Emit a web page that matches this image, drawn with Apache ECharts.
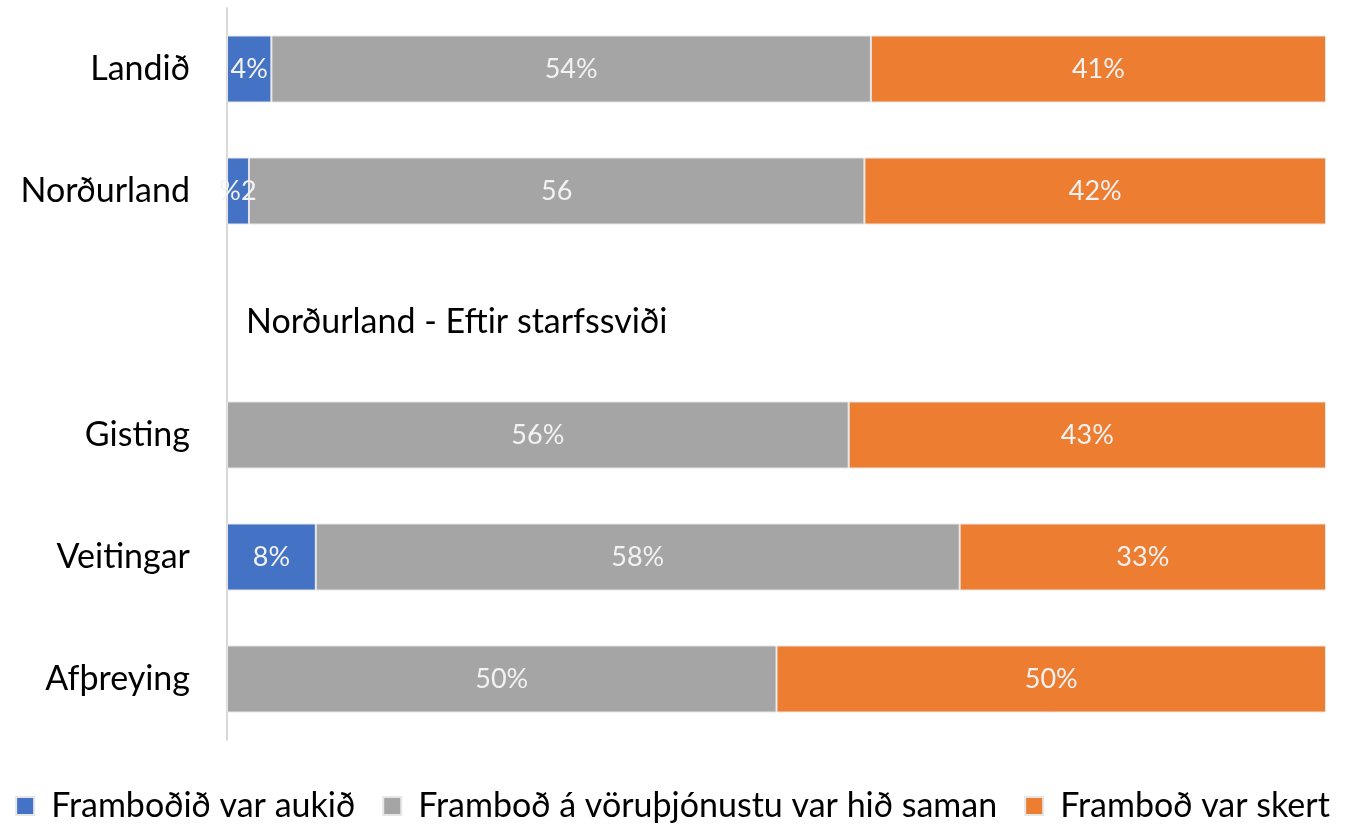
<!DOCTYPE html>
<html>
<head>
<meta charset="utf-8">
<script src="https://cdn.jsdelivr.net/npm/echarts@6/dist/echarts.min.js"></script>
<style>
html, body { margin: 0; padding: 0; background: #fff; }
#main { width: 1345px; height: 825px; }
</style>
</head>
<body>
<div id="main"></div>
<script>
// flokkar (tómur flokkur fyrir millifyrirsögn)
let flokkar = ['Landið', 'Norðurland', '', 'Gisting', 'Veitingar', 'Afþreying'];
let nofn = ['Framboðið var aukið', 'Framboð á vöruþjónustu var hið saman', 'Framboð var skert'];
// gildi í %
let aukid = [4, 2, null, null, 8, null];
let saman = [54, 56, null, 56, 58, 50];
let skert = [41, 42, null, 43, 33, 50];
// merkingar eins og þær birtast
let aukidTxt = ['4%', '%2', '', '', '8%', ''];
let samanTxt = ['54%', '56', '', '56%', '58%', '50%'];
let skertTxt = ['41%', '42%', '', '43%', '33%', '50%'];
let litir = ['#4472c4', '#a5a5a5', '#ed7d31'];

// 100% staflað: deilt með summu raðar
function hlutfall(arr) {
    return arr.map((v, i) => {
        let s = (aukid[i] || 0) + (saman[i] || 0) + (skert[i] || 0);
        return v == null || s === 0 ? null : v / s * 100;
    });
}

function rod(nafn, gogn, txt, litur) {
    return {
        name: nafn,
        type: 'bar',
        stack: 'a',
        barWidth: 67,
        data: hlutfall(gogn),
        itemStyle: { color: litur, borderColor: '#e6e6e6', borderWidth: 1 },
        label: {
            show: true,
            position: 'inside',
            color: '#f2f2f2',
            fontSize: 27,
            fontFamily: 'Lato',
            formatter: p => txt[p.dataIndex]
        }
    };
}

let myChart = echarts.init(document.getElementById('main'));
let option = {
    animation: false,
    title: {
        text: 'Norðurland - Eftir starfssviði',
        left: 241,
        top: 300,
        textStyle: { fontSize: 34, fontWeight: 'normal', color: '#000', fontFamily: 'Lato' }
    },
    grid: { left: 227, right: 19, top: 8, bottom: 85 },
    xAxis: { type: 'value', min: 0, max: 100, show: false },
    yAxis: {
        type: 'category',
        inverse: true,
        data: flokkar,
        axisLine: { lineStyle: { color: '#d9d9d9', width: 2 } },
        axisTick: { show: false },
        axisLabel: { color: '#000', fontSize: 34, margin: 37, fontFamily: 'Lato' }
    },
    legend: {
        bottom: -3,
        left: 'center',
        itemWidth: 18,
        itemHeight: 18,
        itemGap: 27,
        icon: 'rect',
        textStyle: { fontSize: 34, color: '#000', fontFamily: 'Lato', padding: [0, 0, 0, 12] }
    },
    series: [
        rod(nofn[0], aukid, aukidTxt, litir[0]),
        rod(nofn[1], saman, samanTxt, litir[1]),
        rod(nofn[2], skert, skertTxt, litir[2])
    ]
};
myChart.setOption(option);
</script>
</body>
</html>
